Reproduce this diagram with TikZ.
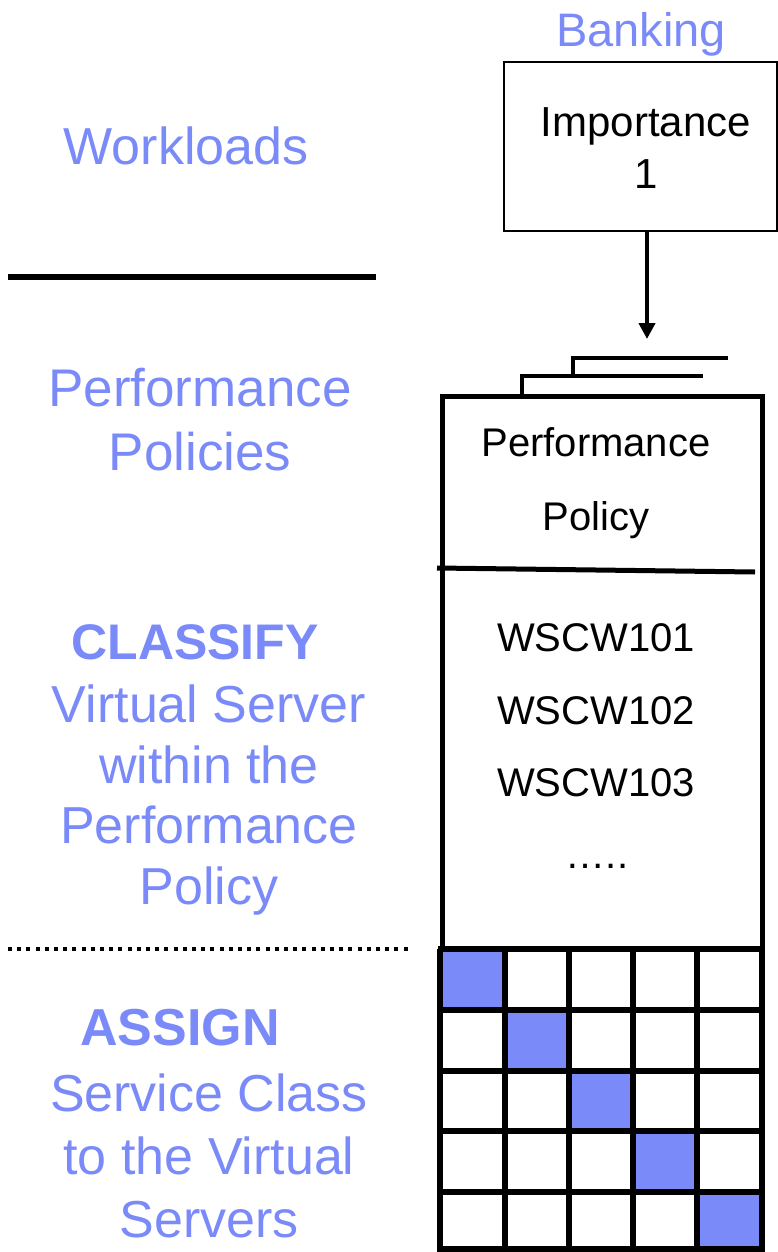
\documentclass[tikz,border=0pt]{standalone}
\usepackage{fontspec}
\setmainfont{Liberation Sans}
\usepackage{tikz}
\usetikzlibrary{arrows.meta,calc}
\definecolor{BlueLabel}{RGB}{122,138,248}

\tikzset{
  bluetext/.style={BlueLabel, anchor=base, font=\fontsize{52}{60}\selectfont},
  blackbase/.style={anchor=base, font=\fontsize{40}{48}\selectfont},
}

\begin{document}
\begin{tikzpicture}[x=1pt, y=-1pt]
    \useasboundingbox (0,0) rectangle (778,1252);
    %%Workload box
    \node[BlueLabel, anchor=base, font=\fontsize{47}{56}\selectfont] (banking) at (641,47) {Banking};
    \draw[line width=2.5pt] (504,62) rectangle (777,231);
    \coordinate (impbottom) at (647,231);
    \draw
    (646,137) node[blackbase, font=\fontsize{42}{50}\selectfont] (imp) {Importance}
    (646,189) node[blackbase, font=\fontsize{42}{50}\selectfont] (impnum) {1}
    ;
    %%Stacked policies
    \draw[line width=4.5pt] (728,358) -- (573,358) -- (573,376);
    \draw[line width=4.5pt] (703,376) -- (522,376) -- (522,396);
    \coordinate (stacktop) at (647,339);
    \draw[line width=4pt, -{Triangle[length=16pt,width=16pt]}] (impbottom) -- (stacktop);
    %%Policy box
    \draw[line width=5pt] (442,949) -- (442,396) -- (762,396) -- (762,949);
    \draw[line width=5pt] (437,568) -- (755,572);
    \draw
    (596,456) node[blackbase] (ptitle) {Performance}
    (596,530) node[blackbase] (psub) {Policy}
    (596,651) node[blackbase] (ws1) {WSCW101}
    (596,724) node[blackbase] (ws2) {WSCW102}
    (596,796) node[blackbase] (ws3) {WSCW103}
    (597,868) node[blackbase] (wsdots) {…..}
    ;
    %%Service class grid
    \fill[BlueLabel] (440,949) rectangle (505,1010);
    \fill[BlueLabel] (505,1010) rectangle (569,1071);
    \fill[BlueLabel] (569,1071) rectangle (633,1131);
    \fill[BlueLabel] (633,1131) rectangle (697,1192);
    \fill[BlueLabel] (697,1192) rectangle (762,1252);
    \foreach \x in {440,505,569,633,697,762}
        \draw[line width=5.5pt] (\x,949) -- (\x,1252);
    \foreach \y in {949,1010,1071,1131,1192,1249}
        \draw[line width=5.5pt] (438,\y) -- (764,\y);
    %%Left labels
    \draw
    (186,165) node[bluetext] (workloads) {Workloads}
    (200,406) node[bluetext, font=\fontsize{53}{60}\selectfont] (perf) {Performance}
    (200,470) node[bluetext, font=\fontsize{53}{60}\selectfont] (pols) {Policies}
    ;
    \draw[line width=5.5pt] (8,277) -- (376,277);
    \draw
    (195,659) node[bluetext, font=\fontsize{50}{60}\bfseries] (classify) {CLASSIFY}
    (209,722) node[bluetext] (cl1) {Virtual Server}
    (209,783) node[bluetext] (cl2) {within the}
    (209,843) node[bluetext] (cl3) {Performance}
    (209,904) node[bluetext] (cl4) {Policy}
    ;
    \draw[line width=4pt, dash pattern=on 4pt off 5.2pt] (8,949) -- (410,949);
    \draw
    (180,1045) node[bluetext, font=\fontsize{52}{60}\bfseries] (assign) {ASSIGN}
    (209,1111) node[bluetext] (as1) {Service Class}
    (209,1174) node[bluetext] (as2) {to the Virtual}
    (209,1237) node[bluetext] (as3) {Servers}
    ;
\end{tikzpicture}
\end{document}
